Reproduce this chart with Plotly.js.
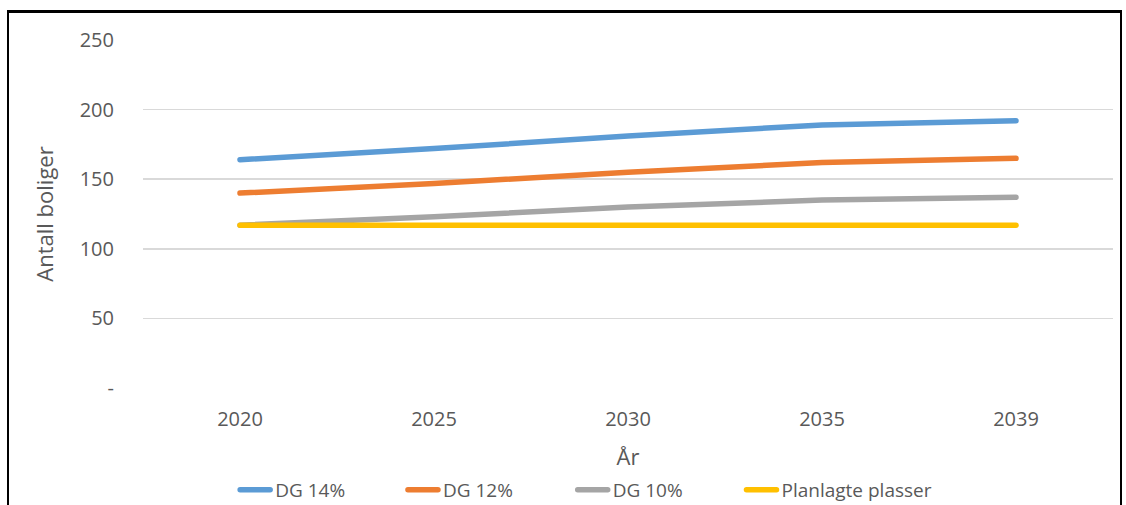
<!DOCTYPE html>
<html>
<head>
<meta charset="utf-8">
<script src="https://cdn.plot.ly/plotly-3.0.1.min.js"></script>
<style>
html,body{margin:0;padding:0;background:#fff;}
#wrap{position:relative;width:1126px;height:505px;}
#chart{width:1126px;height:505px;}
#frame{position:absolute;left:7px;top:10px;width:1115px;height:500px;border-left:2px solid #000;border-top:3px solid #000;border-right:2px solid #000;pointer-events:none;box-sizing:border-box;}
#chart .scatterlayer .js-line, #chart .legendlines path{stroke-linecap:round;stroke-linejoin:round;}
</style>
</head>
<body>
<div id="wrap"><div id="chart"></div><div id="frame"></div></div>
<script>
const years = ["2020", "2025", "2030", "2035", "2039"];
const dg14 = [164, 172, 181, 189, 192];
const dg12 = [140, 147, 155, 162, 165];
const dg10 = [117, 123, 130, 135, 137];
const planlagte = [117, 117, 117, 117, 117];
const seriesNames = ["DG 14%", "DG 12%", "DG 10%", "Planlagte plasser"];
const yTickVals = [0, 50, 100, 150, 200, 250];
const yTickText = ["-", "50", "100", "150", "200", "250"];

const colors = ["#5b9bd5", "#ed7d31", "#a5a5a5", "#ffc000"];
const allSeries = [dg14, dg12, dg10, planlagte];
const font = "Open Sans, Liberation Sans, sans-serif";
const legendIds = ["legend", "legend2", "legend3", "legend4"];
const legendX = [0.095, 0.268, 0.443, 0.617];

const traces = allSeries.map((vals, i) => ({
  x: years, y: vals, name: seriesNames[i], type: "scatter", mode: "lines",
  legend: legendIds[i],
  line: {color: colors[i], width: 5.5, shape: "linear"}
}));

const layout = {
  width: 1126, height: 505,
  margin: {l: 143, r: 13, t: 40, b: 117, autoexpand: false},
  paper_bgcolor: "#fff", plot_bgcolor: "#fff",
  font: {family: font, size: 20, color: "#595959"},
  showlegend: true,
  xaxis: {type: "category", range: [-0.5, 4.5], showgrid: false, zeroline: false, showline: false,
    automargin: false, ticks: "", ticklabelstandoff: 17, tickfont: {size: 20, color: "#595959"},
    title: {text: "År", font: {size: 22, color: "#595959"}, standoff: 18}},
  yaxis: {range: [0, 250], tickvals: yTickVals, ticktext: yTickText, showgrid: true,
    automargin: false, gridcolor: "#d9d9d9", gridwidth: 1.5, zeroline: false, showline: false, ticks: "",
    ticklabelstandoff: 28, tickfont: {size: 20, color: "#595959"},
    title: {text: "Antall boliger", font: {size: 22, color: "#595959"}, standoff: 19}}
};
legendIds.forEach((id, i) => {
  layout[id] = {orientation: "h", x: legendX[i], xanchor: "left", y: -0.293, yanchor: "middle",
    bgcolor: "rgba(0,0,0,0)", font: {family: font, size: 19, color: "#595959"}};
});

Plotly.newPlot("chart", traces, layout, {displayModeBar: false, staticPlot: true});
</script>
</body>
</html>
